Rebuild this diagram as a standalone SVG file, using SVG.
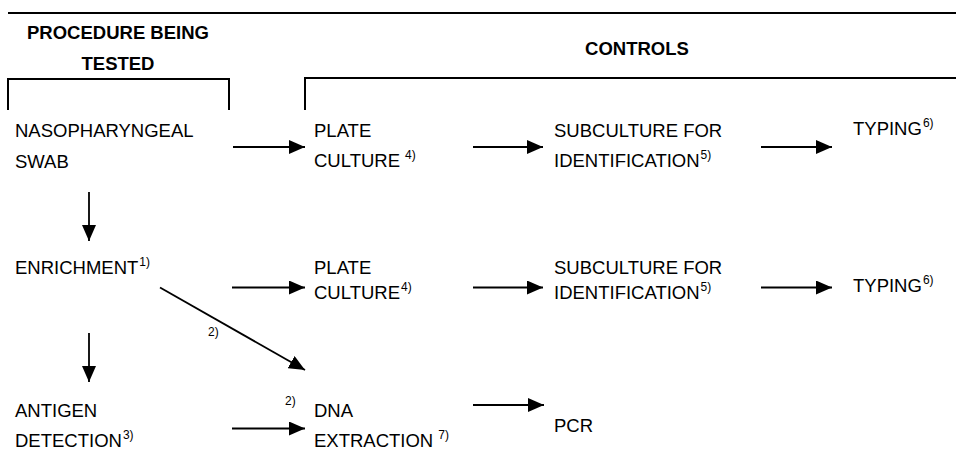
<svg xmlns="http://www.w3.org/2000/svg" width="956" height="454" viewBox="0 0 956 454">
<style>
text{font-family:"Liberation Sans",Arial,sans-serif;fill:#000}
.t{font-size:18.5px}
.h{font-size:18.5px;font-weight:bold}
.sup{font-size:12px}
.rule{stroke:#000;stroke-width:2;fill:none}
.ar{stroke:#000;stroke-width:1.8;fill:none;marker-end:url(#ah)}
</style>
<defs>
<marker id="ah" markerUnits="userSpaceOnUse" markerWidth="16" markerHeight="14" refX="16" refY="7" orient="auto">
<path d="M0,0 L16,7 L0,14 z" fill="#000"/>
</marker>
</defs>
<rect width="956" height="454" fill="#fff"/>
<g id="headers">
<line class="rule" x1="8" y1="13" x2="956" y2="13"/>
<text class="h" x="118" y="38.5" text-anchor="middle">PROCEDURE BEING</text>
<text class="h" x="118" y="70" text-anchor="middle">TESTED</text>
<text class="h" x="637" y="55" text-anchor="middle">CONTROLS</text>
<path class="rule" d="M8,110 V79 H229 V110"/>
<path class="rule" d="M305,110 V78 H956"/>
</g>
<g id="connectors">
<line class="ar" x1="233" y1="147" x2="305" y2="147"/>
<line class="ar" x1="473" y1="147" x2="543" y2="147"/>
<line class="ar" x1="761" y1="147" x2="832" y2="147"/>
<line class="ar" x1="89" y1="192" x2="89" y2="241"/>
<line class="ar" x1="232" y1="287.5" x2="305" y2="287.5"/>
<line class="ar" x1="473" y1="287.5" x2="543" y2="287.5"/>
<line class="ar" x1="761" y1="287.5" x2="832" y2="287.5"/>
<line class="ar" x1="160" y1="287.5" x2="305" y2="370"/>
<text class="sup" x="208" y="336">2)</text>
<line class="ar" x1="89" y1="333" x2="89" y2="382"/>
<line class="ar" x1="232" y1="428.5" x2="305" y2="428.5"/>
<text class="sup" x="285" y="405">2)</text>
<line class="ar" x1="473" y1="405" x2="544" y2="405"/>
</g>
<g id="nasopharyngeal-swab">
<text class="t" x="15" y="137">NASOPHARYNGEAL</text>
<text class="t" x="15" y="168">SWAB</text>
</g>
<g id="plate-culture-1">
<text class="t" x="314" y="137">PLATE</text>
<text class="t" x="314" y="167">CULTURE<tspan class="sup" dx="5" dy="-8">4)</tspan></text>
</g>
<g id="subculture-1">
<text class="t" x="554" y="137">SUBCULTURE FOR</text>
<text class="t" x="554" y="167">IDENTIFICATION<tspan class="sup" dx="1" dy="-8">5)</tspan></text>
</g>
<g id="typing-1">
<text class="t" x="853" y="134.5">TYPING<tspan class="sup" dx="1" dy="-8">6)</tspan></text>
</g>
<g id="enrichment">
<text class="t" x="15" y="274">ENRICHMENT<tspan class="sup" dx="1" dy="-8">1)</tspan></text>
</g>
<g id="plate-culture-2">
<text class="t" x="314" y="274">PLATE</text>
<text class="t" x="314" y="298.5">CULTURE<tspan class="sup" dx="1" dy="-8">4)</tspan></text>
</g>
<g id="subculture-2">
<text class="t" x="554" y="274">SUBCULTURE FOR</text>
<text class="t" x="554" y="298.5">IDENTIFICATION<tspan class="sup" dx="1" dy="-8">5)</tspan></text>
</g>
<g id="typing-2">
<text class="t" x="853" y="291.5">TYPING<tspan class="sup" dx="1" dy="-8">6)</tspan></text>
</g>
<g id="antigen-detection">
<text class="t" x="15" y="417">ANTIGEN</text>
<text class="t" x="15" y="447">DETECTION<tspan class="sup" dx="1" dy="-8">3)</tspan></text>
</g>
<g id="dna-extraction">
<text class="t" x="314" y="417">DNA</text>
<text class="t" x="314" y="447">EXTRACTION<tspan class="sup" dx="5" dy="-8">7)</tspan></text>
</g>
<g id="pcr">
<text class="t" x="554" y="432">PCR</text>
</g>
</svg>
